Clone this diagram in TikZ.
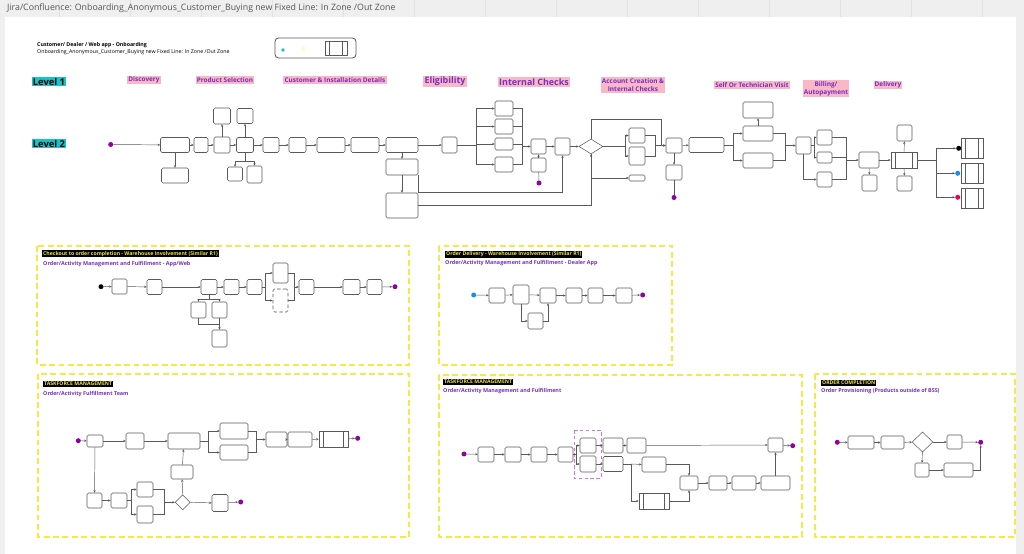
\documentclass[tikz,border=0pt]{standalone}
\usepackage{fontspec}
\setmainfont{Open Sans}
\usetikzlibrary{arrows.meta,positioning,calc,shapes.geometric}
\definecolor{linegray}{RGB}{90,90,90}
\definecolor{bargray}{RGB}{239,239,239}
\definecolor{gridgray}{RGB}{226,226,226}
\definecolor{titlegray}{RGB}{85,85,85}
\definecolor{levelcyan}{RGB}{20,196,200}
\definecolor{stagepink}{RGB}{250,184,198}
\definecolor{stagepurple}{RGB}{118,46,190}
\definecolor{endpurple}{RGB}{148,0,160}
\definecolor{panelyellow}{RGB}{247,233,64}
\definecolor{titleyellow}{RGB}{240,228,70}
\definecolor{dotblue}{RGB}{24,140,240}
\definecolor{dotred}{RGB}{232,0,92}
\definecolor{pinkdash}{RGB}{222,110,232}
\newlength\pxu
\setlength\pxu{0.3mm}
\tikzset{
  sz/.style 2 args={minimum width=#1\pxu, minimum height=#2\pxu},
  task/.style={draw=linegray, fill=white, rounded corners=1.3pt, line width=0.45pt, inner sep=0pt},
  subproc/.style={task, rounded corners=0pt,
    path picture={\draw[linegray, line width=0.4pt]
      ([xshift=4.5\pxu]path picture bounding box.north west) -- ([xshift=4.5\pxu]path picture bounding box.south west)
      ([xshift=-4.5\pxu]path picture bounding box.north east) -- ([xshift=-4.5\pxu]path picture bounding box.south east);}},
  gate/.style={diamond, draw=linegray, fill=white, line width=0.45pt, inner sep=0pt},
  arr/.style={draw=linegray, line width=0.4pt, -{Stealth[length=2.2pt,width=1.9pt]}},
  ln/.style={draw=linegray, line width=0.4pt},
  dot/.style={circle, fill=#1, inner sep=0pt, minimum size=5\pxu},
  enddot/.style={dot=endpurple},
  level/.style={fill=levelcyan, font=\fontsize{8}{9}\selectfont\bfseries, inner sep=0.8pt},
  stage/.style={fill=stagepink, text=stagepurple, font=\fontsize{5.5}{6.6}\selectfont\bfseries, inner sep=1pt},
  stagebig/.style={stage, font=\fontsize{7.6}{9}\selectfont\bfseries},
  panel/.style={draw=panelyellow, line width=1pt, dash pattern=on 5pt off 3pt},
  ptitle/.style={fill=black, text=titleyellow, font=\fontsize{4.4}{5.2}\selectfont\bfseries, anchor=north west, inner sep=0.8pt},
  psub/.style={text=stagepurple, font=\fontsize{4.6}{5.4}\selectfont\bfseries, anchor=west, inner sep=0pt},
}
\begin{document}
\begin{tikzpicture}[x=0.3mm, y=-0.3mm]
  % canvas
  \useasboundingbox (0,0) rectangle (1024,554);
  \fill[bargray] (0,0) rectangle (1024,554);
  \foreach \gx in {59,130,...,984}{
    \draw[gridgray, line width=0.3pt] (\gx,0) -- (\gx,17);
  }
  \fill[white] (5,17) rectangle (1016,554);
  \node[anchor=west, text=titlegray, font=\fontsize{7.5}{9}\selectfont] (pagetitle) at (3,8)
    {Jira/Confluence: Onboarding\_Anonymous\_Customer\_Buying new Fixed Line: In Zone /Out Zone};

  % header and legend
  \node[anchor=west, inner sep=0pt, font=\fontsize{4.5}{5}\selectfont\bfseries] (hdr) at (37,45) {Customer/ Dealer / Web app - Onboarding};
  \node[anchor=west, inner sep=0pt, font=\fontsize{4.5}{5}\selectfont] (hdrsub) at (37,52.5) {Onboarding\_Anonymous\_Customer\_Buying new Fixed Line: In Zone /Out Zone};
  \draw[linegray, line width=0.7pt, rounded corners=3pt] (275,38) rectangle (356,58);
  \fill[levelcyan] (283,50) circle (1.8);
  \fill[yellow!25] (302,47) rectangle (305,51);
  \node[subproc, sz={22}{14}] (legsub) at (336,48) {};

  % levels and stages
  \node[level] (lv1) at (49,81.5) {Level 1};
  \node[level] (lv2) at (49,143.5) {Level 2};
  \node[stage] (stDisc) at (144,80) {Discovery};
  \node[stage] (stProd) at (225,80) {Product Selection};
  \node[stage] (stCust) at (335,80) {Customer \& Installation Details};
  \node[stagebig] (stElig) at (445,81.5) {Eligibility};
  \node[stagebig] (stInt) at (534,82) {Internal Checks};
  \node[stage, align=center] (stAcc) at (633,85) {Account Creation \&\\Internal Checks};
  \node[stage] (stVisit) at (752,85) {Self Or Technician Visit};
  \node[stage, align=center] (stBill) at (826,88.5) {Billing/\\Autopayment};
  \node[stage] (stDel) at (888,85) {Delivery};

  % level 2 flow
  \node[task, sz={29}{15}] (m1) at (175,145) {};
  \node[task, sz={27}{15}] (m1b) at (175,175.5) {};
  \node[task, sz={14}{15}] (m2) at (201,145) {};
  \node[task, sz={16}{16}] (m3) at (222,145) {};
  \node[task, sz={17}{16}] (m3a) at (222,116) {};
  \node[task, sz={17}{15}] (m4) at (245,145) {};
  \node[task, sz={16}{15}] (m4a) at (245,116) {};
  \node[task, sz={15}{14}] (m4b) at (235,174) {};
  \node[task, sz={15}{17}] (m4c) at (254.5,174.5) {};
  \node[task, sz={16}{15}] (m5) at (271,145) {};
  \node[task, sz={17}{15}] (m6) at (297.5,145) {};
  \node[task, sz={28}{15}] (m7) at (331,145) {};
  \node[task, sz={28}{15}] (m8) at (365,145) {};
  \node[task, sz={32}{15}] (m9) at (402,145) {};
  \node[task, sz={32}{16}] (m9b) at (402,167) {};
  \node[task, sz={32}{25}] (m9c) at (402,205.5) {};
  \node[task, sz={15}{16}] (m10) at (449.5,145) {};
  \node[task, sz={18}{15}] (e1) at (504,108.5) {};
  \node[task, sz={18}{15}] (e2) at (504,126.5) {};
  \node[task, sz={18}{12}] (e3) at (504,144) {};
  \node[task, sz={18}{15}] (e4) at (504,164.5) {};
  \node[task, sz={15}{15}] (m12) at (538.5,146.5) {};
  \node[task, sz={15}{14}] (m12b) at (538.5,165) {};
  \node[task, sz={15}{17}] (m13) at (562.5,146.5) {};
  \node[gate, sz={24}{15}] (d1) at (591,146.5) {};
  \node[task, sz={16}{15}] (a1) at (637,135.5) {};
  \node[task, sz={16}{18}] (a2) at (637,156) {};
  \node[task, sz={16}{6}] (a3) at (637,178) {};
  \node[task, sz={16}{15}] (m14) at (674,145.5) {};
  \node[task, sz={16}{15}] (m14b) at (674,172.5) {};
  \node[task, sz={35}{15}] (m15) at (706.5,145) {};
  \node[task, sz={30}{16}] (v1) at (758,110) {};
  \node[task, sz={30}{15}] (v2) at (758,133.5) {};
  \node[task, sz={30}{15}] (v3) at (758,160.5) {};
  \node[task, sz={15}{17}] (m16) at (803.5,145.5) {};
  \node[task, sz={15}{15}] (b1) at (824.5,137.5) {};
  \node[task, sz={15}{11}] (b2) at (824.5,157.5) {};
  \node[task, sz={15}{15}] (b3) at (824.5,179.5) {};
  \node[task, sz={20}{16}] (m17) at (869,160) {};
  \node[task, sz={15}{16}] (m17b) at (869.5,183) {};
  \node[subproc, sz={26}{16}] (m18) at (904,160) {};
  \node[task, sz={15}{16}] (m18a) at (904.5,133) {};
  \node[task, sz={15}{15}] (m18b) at (904.5,183.5) {};
  \node[subproc, sz={22}{20}] (z1) at (972,148) {};
  \node[subproc, sz={22}{20}] (z2) at (972,173) {};
  \node[subproc, sz={22}{20}] (z3) at (972,198) {};
  \node[enddot] (s0) at (110.7,144.5) {};
  \node[enddot] (m12end) at (539,183) {};
  \node[enddot] (m14end) at (674,197.5) {};
  \node[dot=black] (zd1) at (958.7,148.3) {};
  \node[dot=dotblue] (zd2) at (957.7,173.3) {};
  \node[dot=dotred] (zd3) at (957.7,197.3) {};
  \coordinate (esplit) at (476,145);
  \coordinate (emerge) at (522,146.5);
  \coordinate (dsplit) at (625,146.5);
  \coordinate (amerge) at (655,145.5);
  \coordinate (vsplit) at (733,145);
  \coordinate (vmerge) at (785,145.5);
  \coordinate (bsplit) at (814,145.5);
  \coordinate (bmerge) at (846,160);
  \coordinate (zsplit) at (936,160);

  \draw[arr] (s0) -- (m1);
  \foreach \a/\b in {m1/m2,m2/m3,m3/m4,m4/m5,m5/m6,m6/m7,m7/m8,m8/m9,m9/m10,m12/m13,m13/d1,m14/m15,m17/m18}{
    \draw[arr] (\a) -- (\b);
  }
  \foreach \a/\b in {m1/m1b,m3/m3a,m4/m4a,m9/m9b,m9b/m9c,m12b/m12,m14/m14b,v2/v1,m17/m17b,m18/m18a,m18/m18b}{
    \draw[arr] (\a) -- (\b);
  }
  \draw[arr] (m4.south) -- ++(0,8) -| (m4b);
  \draw[arr] (m4.south) -- ++(0,8) -| (m4c);
  \draw[ln] (m10.east) -- (esplit);
  \foreach \e in {e1,e2,e3,e4}{
    \draw[arr] (esplit) |- (\e.west);
    \draw[ln] (\e.east) -| (emerge);
  }
  \draw[arr] (emerge) -- (m12.west);
  \draw[ln] (m12b) -- (m12end);
  \draw[arr] ([xshift=-0.5\pxu]m9b.south east) -- ++(0,17) -| (m13.south);
  \draw[arr] (m9c.east) -| (d1.south);
  \draw[arr] (d1.south) |- (a3.west);
  \draw[ln] (d1.east) -- (dsplit);
  \draw[arr] (dsplit) |- (a1.west);
  \draw[arr] (dsplit) |- (a2.west);
  \draw[ln] (a1.east) -| (amerge);
  \draw[ln] (a2.east) -| (amerge);
  \draw[arr] (amerge) -- (m14.west);
  \draw[arr] (d1.north) |- (661,119) |- (m14.west);
  \draw[ln] (m14b) -- (m14end);
  \draw[ln] (m15.east) -- (vsplit);
  \draw[arr] (vsplit) |- (v2.west);
  \draw[arr] (vsplit) |- (v3.west);
  \draw[ln] (v2.east) -| (vmerge);
  \draw[ln] (v3.east) -| (vmerge);
  \draw[arr] (vmerge) -- (m16.west);
  \draw[ln] (m16.east) -- (bsplit);
  \draw[arr] (bsplit) |- (b1.west);
  \draw[arr] (bsplit) |- (b2.west);
  \draw[arr] (m16.south) |- (b3.west);
  \foreach \b in {b1,b2,b3}{
    \draw[ln] (\b.east) -| (bmerge);
  }
  \draw[arr] (bmerge) -- (m17.west);
  \draw[ln] (m18.east) -- (zsplit);
  \foreach \d in {zd1,zd2,zd3}{
    \draw[arr] (zsplit) |- (\d.west);
  }

  % panel 1
  \draw[panel] (37,246) rectangle (409,365);
  \node[ptitle] (p1t) at (42,250) {Checkout to order completion - Warehouse Involvement (Similar R1)};
  \node[psub] (p1s) at (43,264) {Order/Activity Management and Fulfillment - App/Web};
  \node[task, sz={15}{15}] (pa) at (119.5,286.5) {};
  \node[task, sz={15}{15}] (pb) at (154.5,287) {};
  \node[task, sz={16}{15}] (pc) at (209,287) {};
  \node[task, sz={15}{15}] (pd) at (231.5,287) {};
  \node[task, sz={15}{15}] (pe) at (254.5,287) {};
  \node[task, sz={15}{20}] (pf1) at (280.5,273) {};
  \node[task, densely dashed, sz={15}{23}] (pf2) at (280.5,300.5) {};
  \node[task, sz={15}{15}] (pf) at (306.5,287) {};
  \node[task, sz={17}{15}] (pg) at (351.5,287) {};
  \node[task, sz={15}{15}] (ph) at (374.5,287) {};
  \node[task, sz={15}{16}] (pc1) at (198.5,310) {};
  \node[task, sz={15}{16}] (pc2) at (219.5,310) {};
  \node[task, sz={15}{17}] (pc3) at (219.5,338.5) {};
  \node[dot=black] (p1s0) at (101,286.7) {};
  \node[enddot] (p1end) at (395,286.7) {};
  \coordinate (pfsplit) at (265.7,287);
  \coordinate (pfmerge) at (294.3,287);
  \foreach \a/\b in {p1s0/pa,pa/pb,pb/pc,pc/pd,pd/pe,pf/pg,pg/ph,ph/p1end,pc2/pc3}{
    \draw[arr] (\a) -- (\b);
  }
  \draw[ln] (pe.east) -- (pfsplit);
  \draw[arr] (pfsplit) |- (pf1.west);
  \draw[arr] (pfsplit) |- (pf2.west);
  \draw[ln] (pf1.east) -| (pfmerge);
  \draw[ln] (pf2.east) -| (pfmerge);
  \draw[arr] (pfmerge) -- (pf.west);
  \draw[arr] (pc.south) -- ++(0,4) -| (pc1);
  \draw[arr] (pc.south) -- ++(0,4) -| (pc2);
  \draw[ln] (pc1.south) |- ([yshift=5\pxu]pc3.north);

  % panel 2
  \draw[panel] (439,246) rectangle (672,365);
  \node[ptitle] (p2t) at (445,250.5) {Order Delivery - Warehouse Involvement (Similar R1)};
  \node[psub] (p2s) at (445,263) {Order/Activity Management and Fulfillment - Dealer App};
  \node[task, sz={16}{15}] (qa) at (497,295.5) {};
  \node[task, sz={16}{19}] (qb) at (521,294.5) {};
  \node[task, sz={15}{16}] (qb2) at (535.5,321) {};
  \node[task, sz={16}{15}] (qc) at (548,295.5) {};
  \node[task, sz={16}{15}] (qd) at (574,295.5) {};
  \node[task, sz={15}{15}] (qe) at (595.5,295.5) {};
  \node[task, sz={16}{15}] (qf) at (624,295.5) {};
  \node[dot=dotblue] (q0) at (473.7,295) {};
  \node[enddot] (qend) at (642.7,295) {};
  \foreach \a/\b in {q0/qa,qa/qb,qb/qc,qc/qd,qd/qe,qe/qf,qf/qend}{
    \draw[arr] (\a) -- (\b);
  }
  \draw[arr] (qb.south) |- (qb2.west);
  \draw[arr] (qb2.east) -| (qc.south);

  % panel 3
  \draw[panel] (38,374) rectangle (409,537);
  \node[ptitle] (p3t) at (43,381) {TASKFORCE MANAGEMENT};
  \node[psub] (p3s) at (43,394) {Order/Activity Fulfillment Team};
  \node[task, sz={16}{12}] (ra) at (95,441) {};
  \node[task, sz={18}{16}] (rb) at (135,441) {};
  \node[task, sz={32}{16}] (rc) at (184,441) {};
  \node[task, sz={28}{16}] (r1) at (234,431) {};
  \node[task, sz={28}{15}] (r2) at (234,452.5) {};
  \node[task, sz={21}{15}] (rd) at (276.5,439.5) {};
  \node[task, sz={24}{15}] (re) at (300,439.5) {};
  \node[subproc, sz={29}{16}] (rf) at (333.5,439) {};
  \node[task, sz={22}{14}] (rm) at (182,472) {};
  \node[task, sz={15}{15}] (rg) at (94.5,500.5) {};
  \node[task, sz={16}{15}] (rh) at (119,500.5) {};
  \node[task, sz={16}{15}] (ri1) at (145,489.5) {};
  \node[task, sz={16}{17}] (ri2) at (145,514.5) {};
  \node[gate, sz={15}{15}] (rdia) at (182.7,502.3) {};
  \node[task, sz={16}{17}] (rj) at (220,503) {};
  \node[enddot] (r0) at (78.3,440.7) {};
  \node[enddot] (rend1) at (357.7,438.3) {};
  \node[enddot] (rend2) at (240.7,502) {};
  \coordinate (rsplit) at (208.3,441);
  \coordinate (rmerge) at (256.7,439.5);
  \coordinate (risplit) at (131.7,500.5);
  \coordinate (rimerge) at (164,502.3);
  \foreach \a/\b in {r0/ra,ra/rb,rb/rc,rd/re,re/rf,rf/rend1,ra/rg,rg/rh,rdia/rj,rj/rend2,rdia/rm,rm/rc}{
    \draw[arr] (\a) -- (\b);
  }
  \draw[ln] (rc.east) -- (rsplit);
  \draw[arr] (rsplit) |- (r1.west);
  \draw[arr] (rsplit) |- (r2.west);
  \draw[ln] (r1.east) -| (rmerge);
  \draw[ln] (r2.east) -| (rmerge);
  \draw[arr] (rmerge) -- (rd.west);
  \draw[ln] (rh.east) -- (risplit);
  \draw[arr] (risplit) |- (ri1.west);
  \draw[arr] (risplit) |- (ri2.west);
  \draw[ln] (ri1.east) -| (rimerge);
  \draw[ln] (ri2.east) -| (rimerge);
  \draw[arr] (rimerge) -- (rdia.west);

  % panel 4
  \draw[panel] (439,375) rectangle (802,537);
  \node[ptitle] (p4t) at (443,379) {TASKFORCE MANAGEMENT};
  \node[psub] (p4s) at (443,391) {Order/Activity Management and Fulfillment};
  \draw[pinkdash, line width=0.4pt, densely dashed] (574,430) rectangle (601,478);
  \node[task, sz={16}{15}] (ta) at (486,454.5) {};
  \node[task, sz={16}{15}] (tb) at (513,454.5) {};
  \node[task, sz={16}{15}] (tc) at (539,454.5) {};
  \node[task, sz={15}{15}] (td) at (565.5,454.5) {};
  \node[task, sz={16}{15}] (tp1) at (588,445.5) {};
  \node[task, sz={16}{16}] (tp2) at (588,464) {};
  \node[task, sz={20}{15}] (tq1) at (613,445.5) {};
  \node[task, sz={19}{15}] (tq2) at (636.5,445.5) {};
  \node[task, sz={20}{15}] (tr1) at (613,464) {};
  \node[task, sz={24}{15}] (ts1) at (654,464.5) {};
  \node[subproc, sz={30}{16}] (tsub) at (654,501) {};
  \node[task, sz={18}{14}] (tu) at (689,483) {};
  \node[task, sz={18}{14}] (tv) at (718,483) {};
  \node[task, sz={24}{14}] (tw) at (744,483) {};
  \node[task, sz={29}{14}] (tx) at (775.5,483) {};
  \node[task, sz={15}{14}] (tz) at (775.5,445) {};
  \node[enddot] (t0) at (464,454) {};
  \node[enddot] (tend) at (792.7,445.7) {};
  \coordinate (tsplit) at (576.7,454.5);
  \coordinate (trsplit) at (631,464);
  \foreach \a/\b in {t0/ta,ta/tb,tb/tc,tc/td,tp1/tq1,tq1/tq2,tq2/tz,tp2/tr1,tu/tv,tv/tw,tw/tx,tx/tz,tz/tend}{
    \draw[arr] (\a) -- (\b);
  }
  \draw[ln] (td.east) -- (tsplit);
  \draw[arr] (tsplit) |- (tp1.west);
  \draw[arr] (tsplit) |- (tp2.west);
  \draw[ln] (tr1.east) -- (trsplit);
  \draw[arr] (trsplit) -- (ts1.west);
  \draw[arr] (trsplit) |- (tsub.west);
  \draw[arr] (ts1.east) -| (tu.north);
  \draw[arr] (tsub.east) -| (tu.south);

  % panel 5
  \draw[panel] (815,374) rectangle (1015,537);
  \node[ptitle] (p5t) at (821,380) {ORDER COMPLETION};
  \node[psub] (p5s) at (821,391) {Order Provisioning (Products outside of BSS)};
  \node[task, sz={26}{13}] (ua) at (861,442.5) {};
  \node[task, sz={23}{13}] (ub) at (892.5,442.5) {};
  \node[gate, sz={21}{20}] (udia) at (922.5,442) {};
  \node[task, sz={15}{14}] (uc) at (954.5,442) {};
  \node[task, sz={14}{14}] (ud) at (922,470) {};
  \node[task, sz={29}{14}] (ue) at (958.5,470) {};
  \node[enddot] (u0) at (837.3,442.3) {};
  \node[enddot] (uend) at (980.7,442.3) {};
  \foreach \a/\b in {u0/ua,ua/ub,ub/udia,udia/uc,uc/uend,udia/ud,ud/ue}{
    \draw[arr] (\a) -- (\b);
  }
  \draw[arr] (ue.east) -| (uend.south);
\end{tikzpicture}
\end{document}
